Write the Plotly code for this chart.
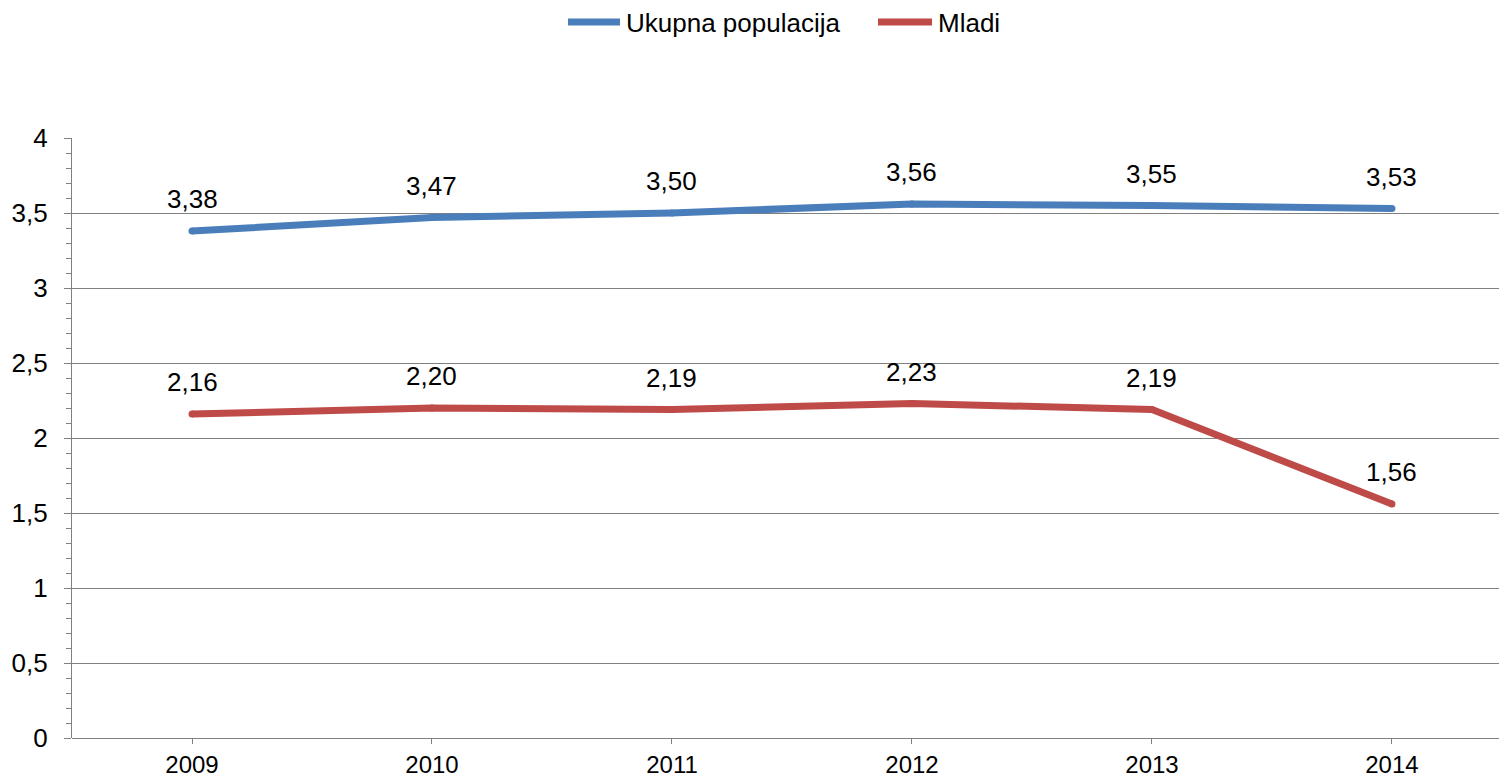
import plotly.graph_objects as go

# Data
years = ["2009", "2010", "2011", "2012", "2013", "2014"]
ukupna = [3.38, 3.47, 3.50, 3.56, 3.55, 3.53]
mladi = [2.16, 2.20, 2.19, 2.23, 2.19, 1.56]
series_names = ["Ukupna populacija", "Mladi"]
y_ticks = [0, 0.5, 1, 1.5, 2, 2.5, 3, 3.5, 4]

BLUE = "#4a7ebb"
RED = "#be4b48"
GRID = "#808080"
FONT = "Liberation Sans, Arial, sans-serif"
FS = 26

fig = go.Figure()
for name, vals, col in [(series_names[0], ukupna, BLUE), (series_names[1], mladi, RED)]:
    fig.add_trace(go.Scatter(
        x=years, y=vals, name=name, mode="lines+markers",
        line=dict(color=col, width=7),
        marker=dict(color=col, size=7, line=dict(width=0)),
        showlegend=False, hoverinfo="skip",
    ))

# value labels above each point (category axis: position by index)
annotations = []
for vals in (ukupna, mladi):
    for i, yv in enumerate(vals):
        annotations.append(dict(
            x=i, y=yv, xref="x", yref="y", showarrow=False,
            text=f"{yv:.2f}".replace(".", ","), yshift=32,
            font=dict(family=FONT, size=FS, color="#000000"),
        ))

# legend drawn at top centre
W, H = 1499, 781
L, R, T, B = 72, 0, 138, 43
pw, ph = W - L - R, H - T - B

def px(xp):
    return (xp - L) / pw

def py(yp):
    return (H - B - yp) / ph

shapes = []
leg_items = [(series_names[0], BLUE, 565, 623), (series_names[1], RED, 875, 935)]
for name, col, x0, x1 in leg_items:
    shapes.append(dict(type="line", xref="paper", yref="paper",
                       x0=px(x0 + 3), x1=px(x1 - 3), y0=py(22), y1=py(22),
                       line=dict(color=col, width=7)))
    annotations.append(dict(x=px(x1 + 1), y=py(23), xref="paper", yref="paper",
                            xanchor="left", yanchor="middle", showarrow=False,
                            text=name, font=dict(family=FONT, size=26, color="#000000")))

fig.update_layout(
    width=W, height=H,
    margin=dict(l=L, r=R, t=T, b=B, pad=0, autoexpand=False),
    paper_bgcolor="white", plot_bgcolor="white",
    separators=", ",
    font=dict(family=FONT, size=FS, color="#000000"),
    showlegend=False,
    annotations=annotations,
    shapes=shapes,
)
fig.update_xaxes(
    type="category", range=[-0.5, 5.446], automargin=False,
    showgrid=False, showline=False, zeroline=False,
    ticks="outside", ticklen=5, tickcolor=GRID, tickwidth=1,
    tickfont=dict(family=FONT, size=24, color="#000000"),
    ticklabelstandoff=0,
)
fig.update_yaxes(
    range=[0, 4], tickvals=y_ticks, automargin=False,
    showgrid=True, gridcolor=GRID, gridwidth=1.2,
    showline=True, linecolor=GRID, linewidth=1.2,
    zeroline=True, zerolinecolor=GRID, zerolinewidth=1.2,
    ticks="outside", ticklen=7, tickcolor=GRID, tickwidth=1.2,
    minor=dict(dtick=0.1, ticks="outside", ticklen=5, tickcolor=GRID, showgrid=False),
    tickfont=dict(family=FONT, size=FS, color="#000000"),
    ticklabelstandoff=11,
)

fig.write_html("out.html")
